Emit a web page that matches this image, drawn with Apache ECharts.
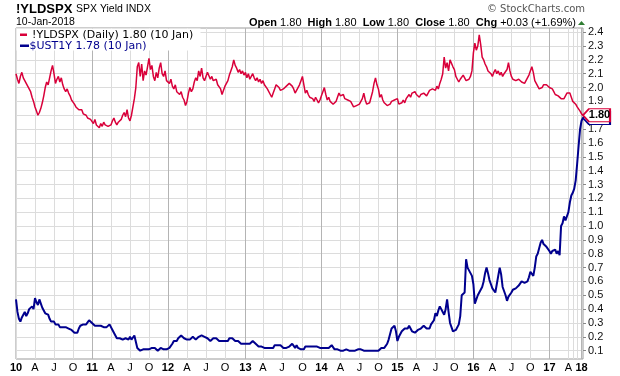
<!DOCTYPE html>
<html><head><meta charset="utf-8">
<script src="https://cdn.jsdelivr.net/npm/echarts@6/dist/echarts.min.js"></script>
<style>html,body{margin:0;padding:0;background:#fff}#c{width:620px;height:376px}</style>
</head><body><div id="c"></div>
<script>
// ---- categories ----
const weeklyStart = '2010-01-04';
const weeklyCount = 379;
const monthlyDates = ['2017-05-01','2017-06-01','2017-07-03','2017-08-01','2017-09-01','2017-10-02','2017-11-01','2017-12-01','2018-01-02','2018-01-10'];
const hiddenQuarterLabels = ['2017-07','2017-10'];
const quarterLetters = {3:'A',6:'J',9:'O'};
const yTicks = [0.1,0.2,0.3,0.4,0.5,0.6,0.7,0.8,0.9,1.0,1.1,1.2,1.3,1.4,1.5,1.6,1.7,1.8,1.9,2.0,2.1,2.2,2.3,2.4];

// ---- series values ----
const yldspx = [
2.10,2.06,2.03,2.08,2.11,2.07,2.05,2.03,2.01,2.00,1.97,1.93,1.90,
1.86,1.83,1.80,1.82,1.85,1.89,1.94,2.00,2.04,2.02,2.07,2.12,2.16,
2.10,2.03,2.06,2.08,2.04,2.07,2.02,1.99,1.97,1.99,1.96,1.94,1.91,
1.90,1.88,1.86,1.87,1.84,1.83,1.84,1.81,1.82,1.80,1.78,1.79,1.77,
1.76,1.74,1.77,1.73,1.72,1.71,1.74,1.72,1.75,1.73,1.74,1.72,1.71,
1.73,1.76,1.78,1.75,1.73,1.75,1.74,1.77,1.80,1.82,1.79,1.84,1.78,
1.76,1.80,1.86,1.92,2.00,2.15,2.18,2.08,2.17,2.05,2.12,2.09,2.15,
2.21,2.13,2.16,2.08,2.05,2.11,2.07,2.14,2.18,2.10,2.08,2.12,2.05,
2.04,2.03,2.06,2.01,1.99,2.02,1.97,1.98,1.95,1.97,1.93,1.91,1.87,
1.90,1.96,2.00,1.97,1.99,2.04,2.07,2.05,2.12,2.08,2.14,2.07,2.05,
2.08,2.11,2.10,2.06,2.08,2.05,2.04,2.06,2.02,2.03,1.99,1.95,1.98,
2.01,2.03,2.05,2.09,2.12,2.15,2.20,2.16,2.14,2.11,2.13,2.10,2.12,
2.09,2.11,2.07,2.10,2.06,2.08,2.10,2.07,2.05,2.07,2.04,2.06,2.03,
2.05,2.02,2.03,1.99,2.00,1.95,1.93,1.96,1.99,2.02,2.03,2.00,1.98,
1.97,1.99,1.98,2.01,2.00,2.03,2.04,2.01,1.99,1.96,1.98,2.00,2.02,
2.05,2.08,2.02,1.96,1.98,1.95,1.93,1.94,1.92,1.90,1.93,1.91,1.89,
1.91,1.94,1.97,2.00,1.95,1.91,1.93,1.90,1.89,1.88,1.87,1.90,1.93,
1.96,1.94,1.93,1.95,1.92,1.93,1.91,1.92,1.90,1.88,1.86,1.85,1.87,
1.86,1.88,1.90,1.92,1.96,1.91,1.88,1.87,1.89,1.93,1.97,2.03,2.07,
2.02,1.99,1.93,1.95,1.91,1.89,1.90,1.87,1.86,1.88,1.90,1.89,1.91,
1.90,1.92,1.88,1.87,1.89,1.91,1.89,1.92,1.93,1.95,1.93,1.96,1.97,
1.97,1.95,1.94,1.93,1.95,1.94,1.96,1.95,1.94,1.96,1.98,1.97,1.99,
2.00,1.98,2.01,1.99,2.03,2.06,2.10,2.22,2.14,2.18,2.12,2.20,2.21,
2.15,2.13,2.08,2.06,2.04,2.06,2.05,2.09,2.07,2.05,2.04,2.06,2.08,
2.12,2.25,2.32,2.27,2.30,2.38,2.31,2.22,2.20,2.17,2.15,2.12,2.11,
2.10,2.08,2.11,2.13,2.10,2.12,2.09,2.11,2.08,2.10,2.09,2.13,2.18,
2.12,2.08,2.06,2.07,2.05,2.04,2.06,2.05,2.04,2.05,2.03,2.04,2.07,
2.09,2.10,2.15,2.11,2.05,2.04,2.01,1.99,1.98,2.00,2.02,2.01,2.02,
2.02,2.00,2.01,1.99,1.97,1.95,1.96,1.94,1.93,1.92,1.93,1.92,1.94,1.96,1.97,
1.96,1.93,1.90,1.91,1.88,1.86,1.85,1.83,1.81,1.80
];
const ust1y = [
0.47,0.38,0.33,0.31,0.34,0.36,0.38,0.35,0.37,0.40,0.41,0.42,0.40,
0.48,0.45,0.43,0.47,0.44,0.41,0.39,0.37,0.38,0.36,0.33,0.31,0.32,
0.31,0.29,0.28,0.29,0.27,0.28,0.27,0.26,0.27,0.28,0.26,0.25,0.25,
0.24,0.23,0.22,0.23,0.26,0.28,0.27,0.29,0.30,0.29,0.30,0.32,0.31,
0.30,0.29,0.28,0.27,0.28,0.29,0.28,0.29,0.27,0.28,0.27,0.28,0.29,
0.28,0.25,0.23,0.21,0.19,0.20,0.19,0.19,0.18,0.19,0.19,0.20,0.18,
0.20,0.18,0.17,0.21,0.20,0.12,0.11,0.10,0.10,0.11,0.10,0.11,0.10,
0.11,0.10,0.12,0.11,0.12,0.12,0.10,0.11,0.12,0.11,0.11,0.12,0.11,
0.11,0.12,0.13,0.15,0.17,0.18,0.17,0.19,0.18,0.21,0.20,0.19,0.19,
0.18,0.19,0.18,0.19,0.20,0.19,0.18,0.19,0.20,0.19,0.21,0.21,0.20,
0.20,0.19,0.18,0.17,0.18,0.19,0.18,0.19,0.18,0.17,0.18,0.17,0.16,
0.17,0.18,0.17,0.19,0.18,0.19,0.18,0.17,0.18,0.17,0.16,0.15,0.16,
0.15,0.14,0.15,0.16,0.15,0.16,0.17,0.16,0.15,0.14,0.13,0.14,0.13,
0.14,0.12,0.13,0.12,0.11,0.12,0.13,0.12,0.14,0.15,0.14,0.13,0.14,
0.13,0.12,0.13,0.12,0.11,0.13,0.14,0.15,0.14,0.12,0.14,0.12,0.11,
0.11,0.12,0.11,0.13,0.12,0.13,0.12,0.13,0.12,0.13,0.12,0.13,0.12,
0.12,0.11,0.12,0.11,0.12,0.13,0.12,0.13,0.14,0.13,0.11,0.10,0.11,
0.10,0.10,0.11,0.10,0.10,0.11,0.10,0.10,0.11,0.10,0.11,0.10,0.11,
0.11,0.10,0.11,0.10,0.10,0.11,0.10,0.11,0.10,0.11,0.10,0.11,0.10,
0.11,0.10,0.11,0.12,0.11,0.12,0.13,0.15,0.18,0.22,0.26,0.25,0.28,
0.24,0.17,0.20,0.22,0.24,0.23,0.26,0.25,0.26,0.28,0.26,0.24,0.23,
0.23,0.24,0.25,0.24,0.26,0.25,0.28,0.27,0.26,0.27,0.26,0.29,0.28,
0.32,0.37,0.35,0.39,0.42,0.40,0.38,0.36,0.40,0.47,0.38,0.30,0.27,
0.24,0.23,0.25,0.26,0.29,0.35,0.50,0.49,0.52,0.76,0.70,0.68,0.66,
0.64,0.58,0.44,0.47,0.50,0.52,0.54,0.56,0.60,0.66,0.70,0.66,0.61,
0.58,0.55,0.54,0.52,0.58,0.64,0.70,0.65,0.56,0.55,0.50,0.46,0.49,
0.50,0.52,0.54,0.53,0.55,0.56,0.57,0.58,0.60,0.61,0.59,0.60,0.60,
0.63,0.67,0.66,0.64,0.70,0.78,0.80,0.84,0.88,0.90,0.87,0.86,0.85,
0.84,0.82,0.80,0.82,0.81,0.83,0.80,0.82,0.79,1.00,1.02,1.07,1.04,1.05,1.10,
1.17,1.22,1.24,1.27,1.33,1.45,1.58,1.70,1.76,1.78
];

// ---- build categories ----
const cats = [];
let d = new Date(weeklyStart + 'T00:00:00Z');
for (let i = 0; i < weeklyCount; i++) { cats.push(d.toISOString().slice(0,10)); d = new Date(d.getTime() + 7*864e5); }
monthlyDates.forEach(s => cats.push(s));
const qKey = s => (+s.slice(0,4))*4 + Math.floor((+s.slice(5,7)-1)/3);
const qStart = cats.map((s,i) => i === 0 || qKey(s) !== qKey(cats[i-1]));
const yStart = cats.map((s,i) => i === 0 || s.slice(0,4) !== cats[i-1].slice(0,4));
const showLabel = cats.map((s,i) => qStart[i] && hiddenQuarterLabels.indexOf(s.slice(0,7)) < 0);

const RED = '#d9003a', BLUE = '#00008e';
const last = cats.length - 1;
const boxPath = 'path://M0,6.5L6,0L27,0L27,13L6,13Z';

const chart = echarts.init(document.getElementById('c'), null, {renderer:'canvas'});
chart.setOption({
  animation: false,
  backgroundColor: '#fff',
  grid: {left:16, right:37, top:28, bottom:17, show:true, borderColor:'#9a9a9a', borderWidth:1, backgroundColor:'transparent'},
  xAxis: [{
    type:'category', data:cats, boundaryGap:false, gridIndex:0, position:'bottom',
    axisLine:{show:false}, axisTick:{show:false},
    axisLabel:{
      interval:(i)=>showLabel[i], margin:3, color:'#000', fontSize:11, fontFamily:'Liberation Sans',
      formatter:(v)=>{ const m = +v.slice(5,7)-1; return m===0 ? '{y|'+v.slice(2,4)+'}' : quarterLetters[m]; },
      rich:{y:{fontWeight:'bold', fontSize:11, fontFamily:'Liberation Sans', color:'#000'}}
    },
    splitLine:{show:true, interval:(i)=>qStart[i], lineStyle:{color:'#dcdcdc', width:1}}
  },{
    type:'category', data:cats, boundaryGap:false, gridIndex:0, position:'bottom',
    axisLine:{show:false}, axisTick:{show:false}, axisLabel:{show:false},
    splitLine:{show:true, interval:(i)=>yStart[i] && i>0, lineStyle:{color:'#b4b4b4', width:1}}
  }],
  yAxis: {
    type:'value', position:'right', min:0.04, max:2.43,
    axisLine:{show:false},
    axisTick:{show:true, length:3, customValues:yTicks, lineStyle:{color:'#888'}},
    axisLabel:{customValues:yTicks, formatter:(v)=>v.toFixed(1), margin:5, color:'#111', fontSize:11, fontFamily:'Liberation Sans'},
    splitLine:{show:true, lineStyle:{color:'#dcdcdc', width:1}}
  },
  series: [{
    name:'$UST1Y', type:'line', data:ust1y, xAxisIndex:0, showSymbol:false, clip:false,
    lineStyle:{color:BLUE, width:2}, itemStyle:{color:BLUE},
    markPoint:{symbol:boxPath, symbolSize:[27,13], symbolOffset:['50%',0], silent:true,
      itemStyle:{color:'#fff', borderColor:BLUE, borderWidth:1.5},
      label:{show:false},
      data:[{coord:[last, 1.78]}]}
  },{
    name:'!YLDSPX', type:'line', data:yldspx, xAxisIndex:0, showSymbol:false, clip:false,
    lineStyle:{color:RED, width:1.5}, itemStyle:{color:RED},
    markPoint:{symbol:boxPath, symbolSize:[27,13], symbolOffset:['50%',0], silent:true,
      itemStyle:{color:'#fff', borderColor:RED, borderWidth:1.5},
      label:{show:true, formatter:'1.80', color:'#000', fontWeight:'bold', fontSize:11, fontFamily:'Liberation Sans', offset:[3,0]},
      data:[{coord:[last, 1.80]}]}
  }],
  graphic: [
    {type:'text', x:16, y:9.5, style:{text:'!YLDSPX', font:'bold 13px "Liberation Sans"', fill:'#000', verticalAlign:'middle'}},
    {type:'text', x:76, y:9.5, style:{text:'SPX Yield INDX', font:'10.5px "Liberation Sans"', fill:'#000', verticalAlign:'middle'}},
    {type:'text', x:16, y:22.5, style:{text:'10-Jan-2018', font:'10.5px "Liberation Sans"', fill:'#000', verticalAlign:'middle'}},
    {type:'text', x:576, y:23, style:{
      text:'{b|Open} 1.80  {b|High} 1.80  {b|Low} 1.80  {b|Close} 1.80  {b|Chg} +0.03 (+1.69%)',
      font:'11px "Liberation Sans"', fill:'#000', align:'right', verticalAlign:'middle',
      rich:{b:{font:'bold 11px "Liberation Sans"', fill:'#000'}}}},
    {type:'polygon', shape:{points:[[578,25],[585,25],[581.5,21]]}, style:{fill:'#2f7d32'}},
    {type:'text', x:585, y:9, style:{text:'© StockCharts.com', font:'10px "DejaVu Sans"', fill:'#555', align:'right', verticalAlign:'middle'}},
    {type:'rect', shape:{x:16.5, y:28.5, width:184, height:22}, style:{fill:'#fff'}, z:10},
    {type:'rect', shape:{x:20, y:33.5, width:7, height:2.5}, style:{fill:RED}, z:11},
    {type:'text', x:32, y:35, style:{text:'!YLDSPX (Daily) 1.80 (10 Jan)', font:'11px "DejaVu Sans"', fill:'#000', verticalAlign:'middle'}, z:11},
    {type:'rect', shape:{x:20, y:44.5, width:9, height:2.5}, style:{fill:BLUE}, z:11},
    {type:'text', x:29.5, y:46, style:{text:'$UST1Y 1.78 (10 Jan)', font:'11px "DejaVu Sans"', fill:BLUE, verticalAlign:'middle'}, z:11}
  ]
});
</script>
</body></html>
